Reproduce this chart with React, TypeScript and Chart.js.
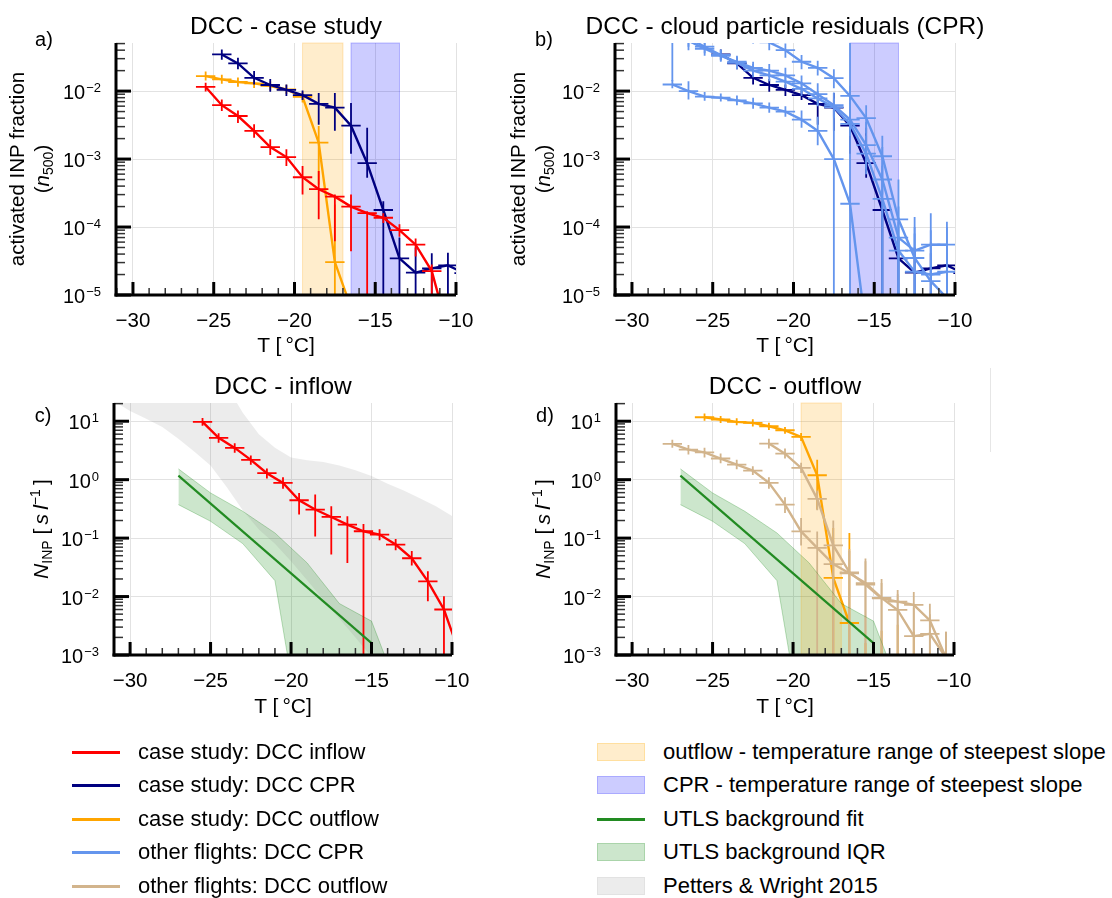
import React, { useEffect, useRef } from "react";
import { Chart, registerables } from "chart.js";
Chart.register(...registerables);

const FONT = "'Liberation Sans', Arial, Helvetica, sans-serif";
const GRID = "#e2e2e2";

const C_RED = "#ff0000";
const C_NAVY = "#000080";
const C_ORANGE = "#ffa500";
const C_LBLUE = "#6495ed";
const C_TAN = "#d2b48c";
const C_GREEN = "#228b22";

// ---------- axis ticks ----------
const X_TICKS = [-30, -25, -20, -15, -10];
const FRAC_Y_TICKS = [1e-5, 1e-4, 1e-3, 1e-2];
const FRAC_Y_EXP = ["\u22125", "\u22124", "\u22123", "\u22122"];
const CONC_Y_TICKS = [1e-3, 1e-2, 1e-1, 1, 10];
const CONC_Y_EXP = ["\u22123", "\u22122", "\u22121", "0", "1"];

// half width of temperature bins (horizontal error bars)
const X_HALF_BIN = 0.6;

// temperature ranges of steepest slope
const OUTFLOW_SPAN = [-19.5, -17.0];
const CPR_SPAN = [-16.5, -13.5];

// ---------- panel a / b : activated INP fraction ----------
const A_RED_T = [-25.5, -24.5, -23.5, -22.5, -21.5, -20.5, -19.5, -18.5, -17.5, -16.5, -15.5, -14.5, -13.5, -12.5, -11.5, -10.5];
const A_RED_Y = [0.0115, 0.0062, 0.0043, 0.0026, 0.0015, 0.00107, 5.4e-4, 3.6e-4, 2.8e-4, 2.0e-4, 1.6e-4, 1.37e-4, 9.0e-5, 5.5e-5, 2.25e-5, 3e-6];
const A_RED_LO = [0.0099, 0.0051, 0.0034, 0.00206, 0.00115, 7.9e-4, 3.0e-4, 1.3e-4, 6.2e-5, 4.4e-5, 1e-7, 1.15e-4, 7.2e-5, 3.7e-5, 1e-7, 3e-6];
const A_RED_HI = [0.0133, 0.0075, 0.0052, 0.00324, 0.00195, 0.00139, 7.9e-4, 6.7e-4, 3.0e-4, 3.0e-4, 1.7e-4, 1.6e-4, 1.1e-4, 6.8e-5, 2.8e-5, 3e-6];

const CPR_T = [-24.5, -23.5, -22.5, -21.5, -20.5, -19.5, -18.5, -17.5, -16.5, -15.5, -14.5, -13.5, -12.5, -11.5, -10.5, -9.5];
const CPR_Y = [0.0346, 0.0255, 0.0157, 0.0123, 0.0104, 0.0087, 0.0065, 0.0057, 0.0031, 8.7e-4, 1.78e-4, 3.46e-5, 2.13e-5, 2.47e-5, 2.73e-5, 2.1e-5];
const CPR_LO = [0.029, 0.021, 0.0125, 0.0098, 0.0085, 0.0074, 0.0032, 0.0026, 0.0012, 5.3e-4, 1e-7, 1e-7, 1e-7, 1e-7, 1e-7, 1e-7];
const CPR_HI = [0.041, 0.031, 0.0197, 0.015, 0.0125, 0.0102, 0.0094, 0.0094, 0.0067, 0.0029, 2.4e-4, 7e-5, 5e-5, 4.1e-5, 4.2e-5, 4e-5];

const A_OUT_T = [-25.5, -24.5, -23.5, -22.5, -21.5, -20.5, -19.5, -18.5, -17.5, -16.5];
const A_OUT_Y = [0.0166, 0.0149, 0.0136, 0.013, 0.0119, 0.0106, 0.0082, 0.00174, 3.05e-5, 6.5e-6];
const A_OUT_LO = [0.0143, 0.0128, 0.0116, 0.0111, 0.0102, 0.0091, 0.0068, 4.2e-4, 1e-7, 6.5e-6];
const A_OUT_HI = [0.0194, 0.0174, 0.0159, 0.0152, 0.0139, 0.0124, 0.0098, 0.00306, 2.15e-4, 6.5e-6];

// other flights, CPR (panel b)
const LB1_T = [-27.5, -26.5, -25.5, -24.5, -23.5, -22.5, -21.5, -20.5, -19.5, -18.5, -17.5, -16.5, -15.5];
const LB1_Y = [0.0125, 0.01, 0.0083, 0.008, 0.0073, 0.0066, 0.0057, 0.005, 0.0038, 0.0026, 0.001, 2.2e-4, 3e-6];
const LB1_LO = [0.011, 0.0075, 0.0072, 0.007, 0.0062, 0.0055, 0.0048, 0.0042, 0.0029, 0.0016, 1e-7, 1e-7, 3e-6];
const LB1_HI = [0.0145, 0.014, 0.0097, 0.0092, 0.0086, 0.008, 0.0068, 0.006, 0.0052, 0.0042, 0.0075, 0.06, 3e-6];

const LB2_T = [-27.5, -26.5, -25.5, -24.5, -23.5, -22.5, -21.5, -20.5, -19.5, -18.5, -17.5, -16.5, -15.5, -14.5, -13.5, -12.5, -11.5, -10.5];
const LB2_Y = [0.08, 0.06, 0.045, 0.034, 0.026, 0.02, 0.017, 0.0138, 0.0108, 0.0078, 0.0058, 0.0033, 0.0012, 2.6e-4, 4.5e-5, 2.2e-5, 2.0e-5, 2.2e-5];
const LB2_LO = [0.014, 0.045, 0.036, 0.028, 0.021, 0.016, 0.014, 0.011, 0.0085, 0.006, 0.0042, 0.0022, 6e-4, 1e-7, 1e-7, 1e-7, 1e-7, 1e-7];
const LB2_HI = [0.12, 0.08, 0.056, 0.041, 0.032, 0.025, 0.021, 0.017, 0.0135, 0.01, 0.0078, 0.0048, 0.0022, 8e-4, 1.2e-4, 8e-5, 9e-5, 1e-4];

const LB3_T = [-22.5, -21.5, -20.5, -19.5, -18.5, -17.5, -16.5, -15.5, -14.5, -13.5, -12.5, -11.5, -10.5];
const LB3_Y = [0.07, 0.052, 0.04, 0.027, 0.022, 0.0155, 0.0085, 0.004, 0.0011, 1.3e-4, 3.5e-5, 1.6e-5, 9e-6];
const LB3_LO = [0.05, 0.04, 0.031, 0.021, 0.017, 0.011, 0.0055, 0.0024, 3e-4, 1e-7, 1e-7, 1e-7, 1e-7];
const LB3_HI = [0.09, 0.066, 0.05, 0.034, 0.028, 0.021, 0.012, 0.0062, 0.0022, 5e-4, 1e-4, 6e-5, 5e-5];

const LB4_T = [-26.5, -25.5, -24.5, -23.5, -22.5, -21.5, -20.5, -19.5, -18.5, -17.5, -16.5, -15.5, -14.5, -13.5, -12.5, -11.5, -10.5];
const LB4_Y = [0.055, 0.042, 0.033, 0.027, 0.022, 0.02, 0.017, 0.013, 0.009, 0.0062, 0.0038, 0.0016, 5e-4, 7e-5, 4.5e-5, 5.5e-5, 5.5e-5];
const LB4_LO = [0.04, 0.033, 0.027, 0.022, 0.018, 0.016, 0.013, 0.0095, 0.0062, 0.004, 0.0022, 7e-4, 1e-7, 1e-7, 1e-7, 1e-7, 1e-7];
const LB4_HI = [0.07, 0.052, 0.04, 0.033, 0.027, 0.025, 0.022, 0.017, 0.013, 0.0095, 0.0065, 0.0035, 0.0015, 2e-4, 1.4e-4, 1.6e-4, 1.2e-4];

// ---------- panel c / d : N_INP ----------
const C_RED_T = [-25.5, -24.5, -23.5, -22.5, -21.5, -20.5, -19.5, -18.5, -17.5, -16.5, -15.5, -14.5, -13.5, -12.5, -11.5, -10.5, -9.5];
const C_RED_Y = [9.75, 5.19, 3.5, 2.18, 1.29, 0.879, 0.444, 0.308, 0.23, 0.17, 0.131, 0.115, 0.0776, 0.0452, 0.0182, 0.006, 0.001];
const C_RED_LO = [8.4, 4.3, 2.9, 1.8, 1.05, 0.7, 0.253, 0.107, 0.0525, 0.0376, 1e-5, 0.092, 0.062, 0.034, 0.0083, 1e-5, 0.001];
const C_RED_HI = [11.3, 6.2, 4.2, 2.6, 1.55, 1.1, 0.59, 0.556, 0.35, 0.237, 0.175, 0.142, 0.097, 0.06, 0.027, 0.0101, 0.001];

const D_OUT_T = [-25.5, -24.5, -23.5, -22.5, -21.5, -20.5, -19.5, -18.5, -17.5, -16.5, -15.5, -14.5, -13.5, -12.5];
const D_OUT_Y = [11.7, 10.7, 9.75, 9.36, 8.2, 7.0, 5.39, 1.19, 0.0208, 0.00353, null, null, null, null];
const D_OUT_LO = [10.2, 9.3, 8.5, 8.1, 7.1, 6.1, 4.6, 0.31, 1e-5, 1e-5, 1e-5, 1e-5, 1e-5, 1e-5];
const D_OUT_HI = [13.5, 12.3, 11.2, 10.8, 9.4, 8.0, 6.3, 2.2, 0.149, 0.122, 0.0016, 0.0026, 0.0033, 0.0025];

const TAN1_T = [-27.5, -26.5, -25.5, -24.5, -23.5, -22.5, -21.5, -20.5, -19.5, -18.5, -17.5, -16.5, -15.5, -14.5, -13.5, -12.5, -11.5, -10.5];
const TAN1_Y = [4.1, 3.27, 2.94, 2.3, 1.81, 1.43, 0.88, 0.374, 0.13, 0.068, 0.036, 0.025, 0.017, 0.0095, 0.0059, 0.0021, 0.0023, 9e-4];
const TAN1_LO = [3.5, 2.7, 2.4, 1.9, 1.5, 1.2, 0.7, 0.27, 0.075, 1e-5, 1e-5, 1e-5, 1e-5, 1e-5, 1e-5, 1e-5, 1e-5, 1e-5];
const TAN1_HI = [4.8, 3.9, 3.5, 2.8, 2.2, 1.7, 1.1, 0.5, 0.22, 0.13, 0.09, 0.065, 0.04, 0.017, 0.011, 0.0065, 0.005, 0.0025];

const TAN2_T = [-21.5, -20.5, -19.5, -18.5, -17.5, -16.5, -15.5, -14.5, -13.5, -12.5, -11.5, -10.5];
const TAN2_Y = [4.15, 2.79, 1.59, 0.47, 0.075, 0.026, 0.016, 0.0093, 0.0082, 0.0072, 0.0039, 9e-4];
const TAN2_LO = [3.4, 2.3, 1.3, 0.3, 1e-5, 1e-5, 1e-5, 1e-5, 1e-5, 1e-5, 1e-5, 1e-5];
const TAN2_HI = [5.0, 3.4, 1.95, 0.65, 0.2, 0.06, 0.045, 0.02, 0.013, 0.012, 0.0075, 0.0025];

// UTLS background fit and IQR
const UTLS_FIT_T = [-27, -15];
const UTLS_FIT_Y = [1.17, 1.6e-3];
const UTLS_IQR_T = [-27, -25, -23, -21, -19, -17, -15, -13];
const UTLS_IQR_HI = [1.53, 0.593, 0.288, 0.1225, 0.0376, 0.0076, 0.0038, 1.4e-4];
const UTLS_IQR_LO = [0.374, 0.194, 0.0805, 0.0187, 1e-5, 1e-6, 1e-6, 1e-6];

// Petters & Wright 2015 range
const PW_T = [-31, -30, -29, -28, -27, -26, -25, -24, -23, -22, -21, -20, -19, -18, -17, -16, -15, -14, -13, -12, -11, -10];
const PW_HI = [100, 100, 100, 100, 100, 100, 100, 40, 14, 6, 3.5, 2.4, 2.15, 2.0, 1.75, 1.45, 1.15, 0.85, 0.65, 0.48, 0.35, 0.24];
const PW_LO = [22, 15, 11, 8, 5, 3, 1.75, 0.75, 0.3, 0.14, 0.08, 0.04, 0.019, 0.0089, 0.0042, 0.002, 9.3e-4, 4.5e-4, 2.2e-4, 1.1e-4, 5e-5, 2.5e-5];

// ---------- helpers ----------
const pts = (xs: number[], ys: (number | null)[]) => xs.map((x, i) => ({ x, y: ys[i] }));

function series(xs: number[], ys: (number | null)[], lo: number[], hi: number[], color: string, width = 2.4): any {
  return {
    data: pts(xs, ys),
    borderColor: color,
    backgroundColor: color,
    borderWidth: width,
    pointRadius: 0,
    tension: 0,
    fill: false,
    spanGaps: false,
    errLo: lo,
    errHi: hi,
    errX: X_HALF_BIN,
  };
}

function band(xs: number[], hi: number[], lo: number[], fillColor: string, edge: string, edgeW: number): any[] {
  return [
    { data: pts(xs, hi), borderColor: edge, borderWidth: edgeW, backgroundColor: fillColor, pointRadius: 0, fill: "+1", tension: 0 },
    { data: pts(xs, lo), borderColor: edge, borderWidth: edgeW, backgroundColor: fillColor, pointRadius: 0, fill: false, tension: 0 },
  ];
}

function fitLine(): any {
  return { data: pts(UTLS_FIT_T, UTLS_FIT_Y), borderColor: C_GREEN, borderWidth: 2.2, pointRadius: 0, fill: false, tension: 0 };
}

const errorBarPlugin = {
  id: "errbars",
  afterDatasetDraw(chart: any, args: any) {
    const ds = chart.data.datasets[args.index];
    if (!ds.errHi) return;
    const { ctx, chartArea: a, scales } = chart;
    const x = scales.x, y = scales.y;
    ctx.save();
    ctx.beginPath();
    ctx.rect(a.left, a.top, a.right - a.left, a.bottom - a.top);
    ctx.clip();
    ctx.strokeStyle = ds.borderColor;
    ctx.lineWidth = 1.8;
    const cp = (v: number) => Math.max(a.top - 20, Math.min(a.bottom + 20, y.getPixelForValue(v)));
    ds.data.forEach((p: any, i: number) => {
      const px = x.getPixelForValue(p.x);
      ctx.beginPath();
      ctx.moveTo(px, cp(ds.errLo[i]));
      ctx.lineTo(px, cp(ds.errHi[i]));
      if (p.y != null) {
        const py = cp(p.y);
        ctx.moveTo(x.getPixelForValue(p.x - ds.errX), py);
        ctx.lineTo(x.getPixelForValue(p.x + ds.errX), py);
      }
      ctx.stroke();
    });
    ctx.restore();
  },
};

function spanPlugin(spans: { range: number[]; fill: string; edge: string }[]) {
  return {
    id: "spans",
    beforeDatasetsDraw(chart: any) {
      const { ctx, chartArea: a, scales } = chart;
      ctx.save();
      spans.forEach((s) => {
        const x0 = scales.x.getPixelForValue(s.range[0]);
        const x1 = scales.x.getPixelForValue(s.range[1]);
        ctx.fillStyle = s.fill;
        ctx.fillRect(x0, a.top, x1 - x0, a.bottom - a.top);
        ctx.strokeStyle = s.edge;
        ctx.lineWidth = 1;
        ctx.strokeRect(x0, a.top, x1 - x0, a.bottom - a.top);
      });
      ctx.restore();
    },
  };
}

function axesPlugin(yTicks: number[], yExp: string[]) {
  return {
    id: "axes",
    afterDraw(chart: any) {
      const { ctx, chartArea: a, scales } = chart;
      const x = scales.x, y = scales.y;
      const seg = (x0: number, y0: number, x1: number, y1: number) => {
        ctx.beginPath();
        ctx.moveTo(x0, y0);
        ctx.lineTo(x1, y1);
        ctx.stroke();
      };
      ctx.save();
      // minor x ticks
      ctx.strokeStyle = "#333";
      ctx.lineWidth = 1.5;
      for (let t = Math.ceil(x.min); t <= x.max; t++) {
        if (X_TICKS.indexOf(t) >= 0) continue;
        const px = x.getPixelForValue(t);
        seg(px, a.bottom, px, a.bottom - 7);
      }
      // minor y ticks
      const d0 = Math.floor(Math.log10(y.min));
      const d1 = Math.ceil(Math.log10(y.max));
      for (let d = d0; d <= d1; d++) {
        for (let k = 2; k <= 9; k++) {
          const v = k * Math.pow(10, d);
          if (v < y.min || v > y.max) continue;
          const py = y.getPixelForValue(v);
          seg(a.left, py, a.left + 9, py);
        }
      }
      // major ticks
      ctx.strokeStyle = "#000";
      ctx.lineWidth = 3;
      X_TICKS.forEach((t) => {
        const px = x.getPixelForValue(t);
        seg(px, a.bottom, px, a.bottom - 13);
      });
      yTicks.forEach((v) => {
        const py = y.getPixelForValue(v);
        seg(a.left, py, a.left + 15, py);
      });
      // axis spines
      ctx.lineWidth = 3;
      seg(a.left, a.top, a.left, a.bottom + 1.5);
      seg(a.left - 1.5, a.bottom, a.right, a.bottom);
      // y tick labels: 10 with superscript exponent
      ctx.fillStyle = "#000";
      ctx.textAlign = "left";
      ctx.textBaseline = "alphabetic";
      yTicks.forEach((v, i) => {
        const py = y.getPixelForValue(v);
        ctx.font = "13px " + FONT;
        const ew = ctx.measureText(yExp[i]).width;
        ctx.font = "20px " + FONT;
        const bw = ctx.measureText("10").width;
        const right = a.left - 15;
        ctx.fillText("10", right - ew - bw - 1, py + 8);
        ctx.font = "13px " + FONT;
        ctx.fillText(yExp[i], right - ew, py + 1);
      });
      ctx.restore();
    },
  };
}

const PAD_L = 70, PAD_T = 10, PAD_R = 24, PAD_B = 44;

type PanelProps = {
  rect: { l: number; t: number; r: number; b: number };
  xMin: number;
  yMin: number;
  yMax: number;
  yTicks: number[];
  yExp: string[];
  spans: { range: number[]; fill: string; edge: string }[];
  build: () => any[];
};

function Panel({ rect, xMin, yMin, yMax, yTicks, yExp, spans, build }: PanelProps) {
  const ref = useRef<HTMLCanvasElement>(null);
  useEffect(() => {
    const chart = new Chart(ref.current as HTMLCanvasElement, {
      type: "line",
      data: { datasets: build() },
      options: {
        animation: false,
        responsive: false,
        devicePixelRatio: 1,
        layout: { padding: { left: 0, top: PAD_T, right: PAD_R, bottom: 0 } },
        plugins: {
          legend: { display: false },
          tooltip: { enabled: false },
          filler: { drawTime: "beforeDatasetsDraw", propagate: false },
        },
        scales: {
          x: {
            type: "linear",
            min: xMin,
            max: -10,
            afterBuildTicks: (s: any) => {
              s.ticks = X_TICKS.map((v) => ({ value: v }));
            },
            afterFit: (s: any) => {
              s.height = PAD_B;
              s.paddingLeft = 0;
              s.paddingRight = 0;
            },
            ticks: {
              callback: (v: any) => (v < 0 ? "\u2212" + Math.abs(v) : String(v)),
              font: { family: FONT, size: 20.5 },
              color: "#000",
              padding: 14,
              maxRotation: 0,
              autoSkip: false,
            },
            grid: { color: GRID, drawTicks: false, lineWidth: 1 },
            border: { display: false },
          },
          y: {
            type: "logarithmic",
            min: yMin,
            max: yMax,
            afterBuildTicks: (s: any) => {
              s.ticks = yTicks.map((v) => ({ value: v }));
            },
            afterFit: (s: any) => {
              s.width = PAD_L;
              s.paddingTop = 0;
              s.paddingBottom = 0;
            },
            ticks: { display: false },
            grid: { color: GRID, drawTicks: false, lineWidth: 1 },
            border: { display: false },
          },
        },
      } as any,
      plugins: [spanPlugin(spans), errorBarPlugin, axesPlugin(yTicks, yExp)] as any,
    });
    return () => chart.destroy();
  }, []);
  const w = PAD_L + rect.r - rect.l + PAD_R;
  const h = PAD_T + rect.b - rect.t + PAD_B;
  return (
    <canvas
      ref={ref}
      width={w}
      height={h}
      style={{ position: "absolute", left: rect.l - PAD_L, top: rect.t - PAD_T, width: w, height: h }}
    />
  );
}

const OUT_SPAN_STYLE = { range: OUTFLOW_SPAN, fill: "rgba(255,165,0,0.2)", edge: "rgba(255,165,0,0.25)" };
const CPR_SPAN_STYLE = { range: CPR_SPAN, fill: "rgba(0,0,255,0.2)", edge: "rgba(0,0,255,0.25)" };
const GREEN_FILL = "rgba(0,128,0,0.2)";
const GREEN_EDGE = "rgba(0,128,0,0.25)";
const GRAY_FILL = "rgba(128,128,128,0.15)";

const buildA = () => [
  series(A_RED_T, A_RED_Y, A_RED_LO, A_RED_HI, C_RED),
  series(CPR_T, CPR_Y, CPR_LO, CPR_HI, C_NAVY),
  series(A_OUT_T, A_OUT_Y, A_OUT_LO, A_OUT_HI, C_ORANGE),
];
const buildB = () => [
  series(LB1_T, LB1_Y, LB1_LO, LB1_HI, C_LBLUE),
  series(LB2_T, LB2_Y, LB2_LO, LB2_HI, C_LBLUE),
  series(LB3_T, LB3_Y, LB3_LO, LB3_HI, C_LBLUE),
  series(LB4_T, LB4_Y, LB4_LO, LB4_HI, C_LBLUE),
  series(CPR_T, CPR_Y, CPR_LO, CPR_HI, C_NAVY),
];
const buildC = () => [
  ...band(PW_T, PW_HI, PW_LO, GRAY_FILL, "rgba(0,0,0,0)", 0),
  ...band(UTLS_IQR_T, UTLS_IQR_HI, UTLS_IQR_LO, GREEN_FILL, GREEN_EDGE, 1),
  fitLine(),
  series(C_RED_T, C_RED_Y, C_RED_LO, C_RED_HI, C_RED),
];
const buildD = () => [
  ...band(UTLS_IQR_T, UTLS_IQR_HI, UTLS_IQR_LO, GREEN_FILL, GREEN_EDGE, 1),
  fitLine(),
  series(TAN1_T, TAN1_Y, TAN1_LO, TAN1_HI, C_TAN),
  series(TAN2_T, TAN2_Y, TAN2_LO, TAN2_HI, C_TAN),
  series(D_OUT_T, D_OUT_Y, D_OUT_LO, D_OUT_HI, C_ORANGE),
];

const centered = (cx: number, cy: number, size: number, extra: any = {}): any => ({
  position: "absolute",
  left: cx,
  top: cy,
  transform: "translate(-50%, -50%)",
  fontSize: size,
  whiteSpace: "nowrap",
  lineHeight: 1,
  ...extra,
});

const rotated = (cx: number, cy: number, size: number): any => ({
  position: "absolute",
  left: cx,
  top: cy,
  transform: "translate(-50%, -50%) rotate(-90deg)",
  fontSize: size,
  whiteSpace: "nowrap",
  textAlign: "center",
  lineHeight: "25px",
});

const FracLabel = () => (
  <>
    <div>activated INP fraction</div>
    <div>
      (<i>n</i>
      <sub style={{ fontSize: 14, verticalAlign: "-4px" }}>500</sub>)
    </div>
  </>
);

const ConcLabel = () => (
  <div>
    <i>N</i>
    <sub style={{ fontSize: 14, verticalAlign: "-4px" }}>INP</sub>
    {" [\u2009"}
    <i>s</i>
    {"\u2009"}
    <i>l</i>
    <sup style={{ fontSize: 14, verticalAlign: "8px" }}>{"\u2212"}1</sup>
    {"\u2009]"}
  </div>
);

const LEG_LEFT = [
  { label: "case study: DCC inflow", color: C_RED },
  { label: "case study: DCC CPR", color: C_NAVY },
  { label: "case study: DCC outflow", color: C_ORANGE },
  { label: "other flights: DCC CPR", color: C_LBLUE },
  { label: "other flights: DCC outflow", color: C_TAN },
];
const LEG_RIGHT = [
  { label: "outflow - temperature range of steepest slope", kind: "patch", fill: "#ffedcc", edge: "#ffdf9f" },
  { label: "CPR - temperature range of steepest slope", kind: "patch", fill: "#ccccff", edge: "#aaaaff" },
  { label: "UTLS background fit", kind: "line", fill: C_GREEN, edge: C_GREEN },
  { label: "UTLS background IQR", kind: "patch", fill: "#cce6cc", edge: "#aad4aa" },
  { label: "Petters & Wright 2015", kind: "patch", fill: "#ececec", edge: "#e2e2e2" },
];
const LEG_ROWS = [752, 785, 819, 852, 886];

export default function App() {
  return (
    <div
      style={{
        position: "absolute",
        left: 0,
        top: 0,
        width: 1112,
        height: 898,
        background: "#fff",
        fontFamily: FONT,
        color: "#000",
        overflow: "hidden",
      }}
    >
      <Panel rect={{ l: 116, t: 43, r: 456, b: 295 }} xMin={-31.05} yMin={1e-5} yMax={0.051} yTicks={FRAC_Y_TICKS} yExp={FRAC_Y_EXP} spans={[OUT_SPAN_STYLE, CPR_SPAN_STYLE]} build={buildA} />
      <Panel rect={{ l: 615, t: 43, r: 955, b: 295 }} xMin={-31.05} yMin={1e-5} yMax={0.051} yTicks={FRAC_Y_TICKS} yExp={FRAC_Y_EXP} spans={[CPR_SPAN_STYLE]} build={buildB} />
      <Panel rect={{ l: 114, t: 403, r: 452, b: 655 }} xMin={-31.0} yMin={1e-3} yMax={20.5} yTicks={CONC_Y_TICKS} yExp={CONC_Y_EXP} spans={[]} build={buildC} />
      <Panel rect={{ l: 616, t: 403, r: 954, b: 655 }} xMin={-31.0} yMin={1e-3} yMax={20.5} yTicks={CONC_Y_TICKS} yExp={CONC_Y_EXP} spans={[OUT_SPAN_STYLE]} build={buildD} />

      {/* titles */}
      <div style={centered(286, 26, 24.5)}>DCC - case study</div>
      <div style={centered(785, 26, 24.5)}>DCC - cloud particle residuals (CPR)</div>
      <div style={centered(283, 386, 24.5)}>DCC - inflow</div>
      <div style={centered(785, 386, 24.5)}>DCC - outflow</div>

      {/* panel letters */}
      <div style={centered(44, 39, 20)}>a)</div>
      <div style={centered(544, 39, 20)}>b)</div>
      <div style={centered(43, 415, 20)}>c)</div>
      <div style={centered(545, 415, 20)}>d)</div>

      {/* x axis titles */}
      <div style={centered(286, 344, 21)}>T [{"\u2009"}°C]</div>
      <div style={centered(785, 344, 21)}>T [{"\u2009"}°C]</div>
      <div style={centered(283, 705, 21)}>T [{"\u2009"}°C]</div>
      <div style={centered(785, 705, 21)}>T [{"\u2009"}°C]</div>

      {/* y axis titles */}
      <div style={rotated(32, 169, 20.5)}><FracLabel /></div>
      <div style={rotated(533, 169, 20.5)}><FracLabel /></div>
      <div style={rotated(41, 529, 21)}><ConcLabel /></div>
      <div style={rotated(543, 529, 21)}><ConcLabel /></div>

      {/* faint separator line */}
      <div style={{ position: "absolute", left: 990, top: 368, width: 1, height: 84, background: "#e6e6e6" }} />

      {/* legend */}
      {LEG_LEFT.map((it, i) => (
        <React.Fragment key={"l" + i}>
          <div style={{ position: "absolute", left: 72, top: LEG_ROWS[i] - 1, width: 48, height: 2.5, background: it.color }} />
          <div style={{ position: "absolute", left: 138, top: LEG_ROWS[i], transform: "translateY(-50%)", fontSize: 22, whiteSpace: "nowrap", lineHeight: 1 }}>{it.label}</div>
        </React.Fragment>
      ))}
      {LEG_RIGHT.map((it, i) => (
        <React.Fragment key={"r" + i}>
          {it.kind === "patch" ? (
            <div style={{ position: "absolute", left: 597, top: LEG_ROWS[i] - 9, width: 46, height: 16, background: it.fill, border: "1px solid " + it.edge }} />
          ) : (
            <div style={{ position: "absolute", left: 597, top: LEG_ROWS[i] - 1, width: 48, height: 2.5, background: it.fill }} />
          )}
          <div style={{ position: "absolute", left: 663, top: LEG_ROWS[i], transform: "translateY(-50%)", fontSize: 22, whiteSpace: "nowrap", lineHeight: 1 }}>{it.label}</div>
        </React.Fragment>
      ))}
    </div>
  );
}
